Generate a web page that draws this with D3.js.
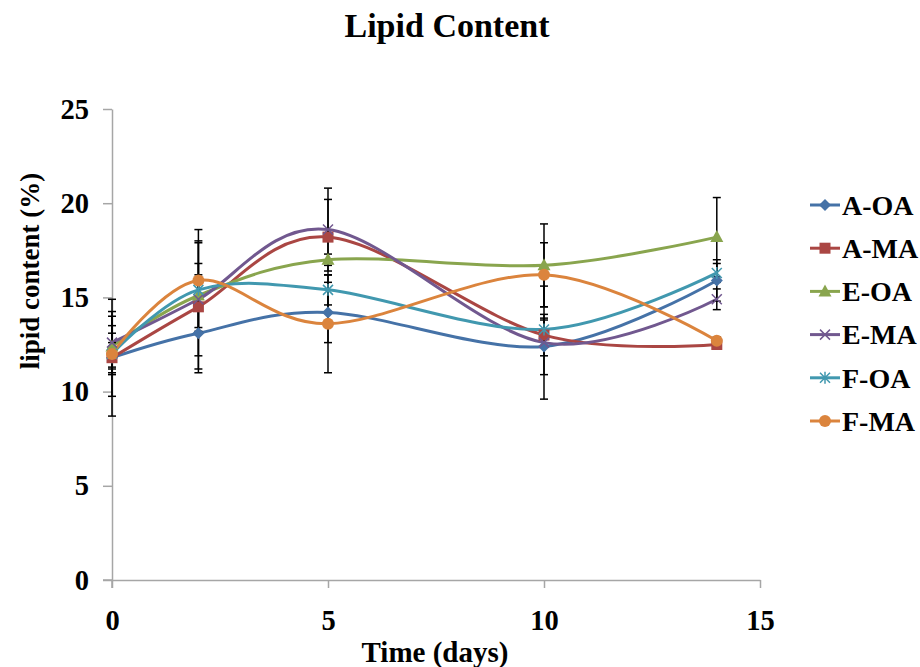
<!DOCTYPE html>
<html>
<head>
<meta charset="utf-8">
<script src="https://cdn.jsdelivr.net/npm/d3@7/dist/d3.min.js"></script>
<style>
  html, body { margin: 0; padding: 0; background: #fff; }
  svg { display: block; }
  text { font-family: "Liberation Serif", "Times New Roman", serif; font-weight: bold; fill: #000; }
</style>
</head>
<body>
<svg id="chart" width="920" height="667"></svg>
<script>
// Sampling days
const days = [0, 2, 5, 10, 14];

// Series names, in legend order
const seriesNames = ["A-OA", "A-MA", "E-OA", "E-MA", "F-OA", "F-MA"];

// Lipid content (%) per series at each day
const aOA = [11.8, 13.1, 14.2, 12.4, 15.9];
const aMA = [11.8, 14.5, 18.2, 13.0, 12.5];
const eOA = [12.4, 15.1, 17.0, 16.7, 18.2];
const eMA = [12.6, 14.9, 18.6, 12.6, 14.9];
const fOA = [12.0, 15.4, 15.4, 13.3, 16.3];
const fMA = [12.0, 15.9, 13.6, 16.2, 12.7];

// Error bar half-widths (same units)
const aOAErr = [3.1, 1.9, 1.6, 1.5, 1.1];
const aMAErr = [0.8, 3.5, 2.0, 1.1, 0.2];
const eOAErr = [1.1, 1.7, 0.3, 2.2, 2.1];
const eMAErr = [1.4, 3.0, 2.2, 3.0, 0.55];
const fOAErr = [2.25, 0.8, 0.8, 0.5, 0.5];
const fMAErr = [1.1, 2.7, 2.6, 1.7, 0.2];

const yTicks = [0, 5, 10, 15, 20, 25];
const xTicks = [0, 5, 10, 15];

const colors = ["#4572A7", "#AA4643", "#89A54E", "#71588F", "#4198AF", "#DB843D"];
const markers = ["diamond", "square", "triangle", "x", "star", "circle"];

const values = [aOA, aMA, eOA, eMA, fOA, fMA];
const errors = [aOAErr, aMAErr, eOAErr, eMAErr, fOAErr, fMAErr];

const series = seriesNames.map((name, i) => ({
  name, color: colors[i], marker: markers[i],
  points: days.map((d, j) => ({ x: d, y: values[i][j], e: errors[i][j] }))
}));

const svg = d3.select("#chart");
const plot = { left: 112, right: 760, top: 109, bottom: 580 };

const x = d3.scaleLinear().domain([0, 15]).range([plot.left, plot.right]);
const y = d3.scaleLinear().domain([0, 25]).range([plot.bottom, plot.top]);

// Title
svg.append("text").attr("x", 447).attr("y", 37)
  .attr("text-anchor", "middle").style("font-size", "34px").text("Lipid Content");

// Axes
const axisColor = "#a6a6a6";
const yAxis = svg.append("g").attr("transform", `translate(${plot.left},0)`)
  .call(d3.axisLeft(y).tickValues(yTicks).tickSize(9).tickSizeOuter(0).tickPadding(14));
const xAxis = svg.append("g").attr("transform", `translate(0,${plot.bottom})`)
  .call(d3.axisBottom(x).tickValues(xTicks).tickSize(8).tickSizeOuter(0).tickPadding(22));

[yAxis, xAxis].forEach(g => {
  g.select(".domain").attr("stroke", axisColor).attr("stroke-width", 1.5);
  g.selectAll(".tick line").attr("stroke", axisColor).attr("stroke-width", 1.5);
  g.selectAll(".tick text")
    .style("font-family", "'Liberation Serif', 'Times New Roman', serif")
    .style("font-weight", "bold").style("font-size", "28.5px").attr("fill", "#000");
});
xAxis.selectAll(".tick text").attr("dy", "0.71em");
// y-axis line continues just past the x axis, x axis line starts left of y axis
svg.append("line").attr("x1", plot.left).attr("x2", plot.left)
  .attr("y1", plot.bottom).attr("y2", plot.bottom + 8)
  .attr("stroke", axisColor).attr("stroke-width", 1.5);
svg.append("line").attr("x1", plot.left - 9).attr("x2", plot.left)
  .attr("y1", plot.bottom).attr("y2", plot.bottom)
  .attr("stroke", axisColor).attr("stroke-width", 1.5);

// Axis titles
svg.append("text").attr("x", 435).attr("y", 662)
  .attr("text-anchor", "middle").style("font-size", "29px").text("Time (days)");
svg.append("text").attr("transform", "translate(39,271) rotate(-90)")
  .attr("text-anchor", "middle").style("font-size", "27px").text("lipid content (%)");

// Smoothed lines
const line = d3.line().x(d => x(d.x)).y(d => y(d.y)).curve(d3.curveCardinal.tension(0));
svg.append("g").selectAll("path").data(series).join("path")
  .attr("d", d => line(d.points))
  .attr("fill", "none").attr("stroke", d => d.color).attr("stroke-width", 3);

// Error bars
const eb = svg.append("g").attr("stroke", "#000").attr("stroke-width", 1.5);
series.forEach(s => {
  s.points.forEach(p => {
    const cx = x(p.x), y1 = y(p.y + p.e), y2 = y(p.y - p.e);
    eb.append("line").attr("x1", cx).attr("x2", cx).attr("y1", y1).attr("y2", y2);
    eb.append("line").attr("x1", cx - 4).attr("x2", cx + 4).attr("y1", y1).attr("y2", y1);
    eb.append("line").attr("x1", cx - 4).attr("x2", cx + 4).attr("y1", y2).attr("y2", y2);
  });
});

// Marker drawing
function drawMarker(g, type, color, cx, cy) {
  switch (type) {
    case "diamond":
      g.append("path").attr("d", `M${cx},${cy - 6}L${cx + 6},${cy}L${cx},${cy + 6}L${cx - 6},${cy}Z`)
        .attr("fill", color);
      break;
    case "square":
      g.append("rect").attr("x", cx - 5.5).attr("y", cy - 5.5).attr("width", 11).attr("height", 11)
        .attr("fill", color);
      break;
    case "triangle":
      g.append("path").attr("d", `M${cx},${cy - 7}L${cx + 6.5},${cy + 5}L${cx - 6.5},${cy + 5}Z`)
        .attr("fill", color);
      break;
    case "x":
      g.append("path").attr("d", `M${cx - 5},${cy - 5}L${cx + 5},${cy + 5}M${cx - 5},${cy + 5}L${cx + 5},${cy - 5}`)
        .attr("stroke", color).attr("stroke-width", 1.5);
      break;
    case "star":
      g.append("path").attr("d", `M${cx - 5},${cy - 5}L${cx + 5},${cy + 5}M${cx - 5},${cy + 5}L${cx + 5},${cy - 5}M${cx},${cy - 6}L${cx},${cy + 6}`)
        .attr("stroke", color).attr("stroke-width", 1.5);
      break;
    case "circle":
      g.append("circle").attr("cx", cx).attr("cy", cy).attr("r", 6).attr("fill", color);
      break;
  }
}

const mk = svg.append("g");
series.forEach(s => s.points.forEach(p => drawMarker(mk, s.marker, s.color, x(p.x), y(p.y))));

// Legend
const legend = svg.append("g");
series.forEach((s, i) => {
  const ly = 205 + i * 43.2;
  legend.append("line").attr("x1", 810).attr("x2", 840).attr("y1", ly).attr("y2", ly)
    .attr("stroke", s.color).attr("stroke-width", 3);
  drawMarker(legend, s.marker, s.color, 825, ly);
  legend.append("text").attr("x", 842).attr("y", ly).attr("dy", "0.35em")
    .style("font-size", "28px").text(s.name);
});
</script>
</body>
</html>
